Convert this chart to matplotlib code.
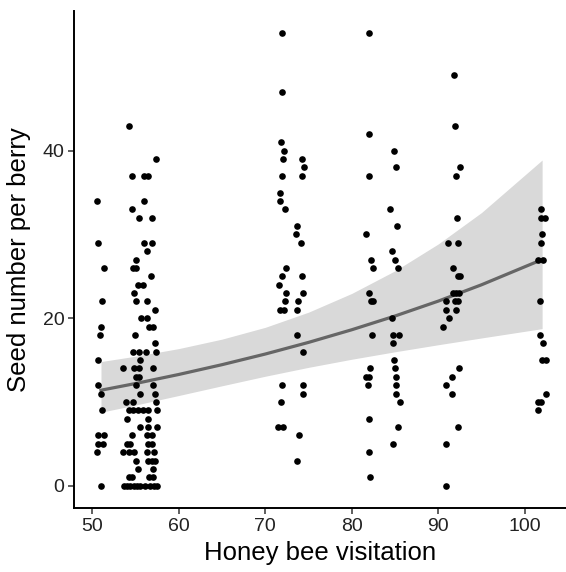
import numpy as np
import matplotlib
matplotlib.use('Agg')
import matplotlib.pyplot as plt

plt.rcParams['font.family'] = ['Liberation Sans', 'DejaVu Sans']

# visitation (x) and seed count (y), grouped by plant cluster
x_51 = [50.58, 50.66, 51.35, 51.1, 51.0, 50.85, 50.7, 50.7, 51.0, 51.1, 50.7, 51.35, 50.7, 51.2, 50.55, 51.0]
y_51 = [34, 29, 26, 22, 19, 18, 15, 12, 11, 9, 6, 6, 5, 5, 4, 0]

x_55 = [54.24, 57.33, 54.62, 55.98, 56.40, 56.01, 54.62, 55.40, 56.94, 55.94, 56.94, 56.32, 55.05,
        54.7, 55.05, 56.8, 55.25, 55.8, 54.8, 55.0, 56.3, 57.25, 55.6, 56.3, 56.6, 57.0, 54.9, 57.3,
        54.7, 55.35, 56.2, 57.35, 55.5, 53.55, 54.8, 55.35, 57.05, 55.0, 55.4, 55.1, 57.0, 55.5, 57.3,
        53.9, 54.65, 57.4, 54.24, 54.74, 55.32, 55.9, 56.47, 57.45, 54.05, 56.4, 55.5, 56.47, 57.45,
        54.55, 56.29, 56.87, 53.98, 54.4, 56.45, 56.9, 53.6, 54.2, 54.8, 56.3, 57.1,
        55.1, 56.45, 56.94, 57.3, 55.3, 57.0, 54.2, 54.6, 56.5, 57.0,
        53.7, 54.0, 54.4, 54.8, 55.2, 55.5, 56.1, 56.7, 57.1, 57.45]
y_55 = [43, 39, 37, 37, 37, 34, 33, 32, 32, 29, 29, 28, 27,
        26, 26, 25, 24, 24, 23, 22, 22, 21, 20, 20, 19, 19, 18, 17,
        16, 16, 16, 16, 15, 14, 14, 14, 14, 13, 13, 12, 12, 11, 11,
        10, 10, 10, 9, 9, 9, 9, 9, 9, 8, 8, 7, 7, 7,
        6, 6, 6, 5, 5, 5, 5, 4, 4, 4, 4, 4,
        3, 3, 3, 3, 2, 2, 1, 1, 1, 1,
        0, 0, 0, 0, 0, 0, 0, 0, 0, 0]

x_73 = [71.97, 71.97, 71.78, 72.2, 72.05, 74.28, 74.5, 71.97, 74.24, 71.73, 71.66, 72.24, 73.7,
        73.5, 74.13, 72.39, 71.93, 74.28, 71.62, 72.36, 74.39, 72.24, 73.78, 71.7, 72.2, 73.67,
        73.67, 74.36, 71.97, 74.39, 74.39, 71.78, 71.5, 72.08, 73.9, 73.7]
y_73 = [54, 47, 41, 40, 39, 39, 38, 37, 37, 35, 34, 33, 31,
        30, 29, 26, 25, 25, 24, 23, 23, 22, 22, 21, 21, 21,
        18, 16, 12, 12, 11, 10, 7, 7, 6, 3]

x_82 = [82.02, 82.02, 81.95, 81.68, 82.2, 82.49, 81.99, 82.19, 82.49, 82.3, 82.07, 81.6, 82.0,
        81.87, 81.99, 82.02, 82.1]
y_82 = [54, 42, 37, 30, 27, 26, 23, 22, 22, 18, 14, 13, 13, 12, 8, 4, 1]

x_85 = [84.84, 85.1, 84.45, 85.26, 84.65, 85.0, 85.38, 84.6, 84.73, 85.42, 84.8, 84.91, 85.0,
        85.07, 85.14, 85.07, 85.54, 85.3, 84.73]
y_85 = [40, 38, 33, 31, 28, 27, 26, 20, 18, 18, 17, 15, 14, 13, 12, 11, 10, 7, 5]

x_92 = [91.85, 91.93, 92.47, 92.0, 92.2, 91.16, 92.24, 91.73, 92.24, 92.5, 91.66, 92.05, 92.43,
        90.89, 91.93, 92.24, 90.86, 92.05, 91.24, 90.58, 92.39, 91.55, 90.86, 91.55, 92.28,
        90.92, 90.86]
y_92 = [49, 43, 38, 37, 32, 29, 29, 26, 25, 25, 23, 23, 23,
        22, 22, 22, 21, 21, 20, 19, 14, 13, 12, 11, 7, 5, 0]

x_102 = [101.84, 101.9, 102.3, 102.0, 101.84, 101.56, 102.14, 101.72, 101.79, 102.1, 101.99,
         102.42, 102.42, 101.56, 101.87, 101.53]
y_102 = [33, 32, 32, 30, 29, 27, 27, 22, 18, 17, 15, 15, 11, 10, 10, 9]

# fitted trend and confidence band
fit_x = [51, 55, 60, 65, 70, 75, 80, 85, 90, 95, 102]
fit_y = [11.40, 12.20, 13.28, 14.45, 15.72, 17.11, 18.62, 20.26, 22.04, 23.99, 27.00]
fit_lo = [8.77, 9.63, 10.77, 11.93, 13.07, 14.13, 15.10, 15.99, 16.83, 17.64, 18.75]
fit_hi = [14.82, 15.46, 16.37, 17.50, 18.91, 20.72, 22.96, 25.66, 28.87, 32.62, 38.88]

xs = x_51 + x_55 + x_73 + x_82 + x_85 + x_92 + x_102
ys = y_51 + y_55 + y_73 + y_82 + y_85 + y_92 + y_102

fig = plt.figure(figsize=(5.66, 5.72), dpi=100)
ax = fig.add_axes([74/566, 63.7/572, 492/566, 497.5/572])

ax.fill_between(fit_x, fit_lo, fit_hi, color='#d9d9d9', linewidth=0, zorder=1)
ax.plot(fit_x, fit_y, color='#666666', linewidth=2.3, zorder=2)
ax.scatter(xs, ys, s=23, color='black', linewidths=0, zorder=3)

ax.set_xlim(47.88, 104.76)
ax.set_ylim(-2.7, 56.7)
ax.set_xticks([50, 60, 70, 80, 90, 100])
ax.set_yticks([0, 20, 40])

for side in ['top', 'right']:
    ax.spines[side].set_visible(False)
for side in ['left', 'bottom']:
    ax.spines[side].set_linewidth(1.4)
    ax.spines[side].set_color('black')
ax.tick_params(axis='both', length=4, width=1.1, color='#333333',
               labelsize=14, labelcolor='#222222', pad=3)

ax.set_xlabel('Honey bee visitation', fontsize=18.5, labelpad=4)
ax.set_ylabel('Seed number per berry', fontsize=18.5, labelpad=8)

fig.savefig('out.png', dpi=100)
